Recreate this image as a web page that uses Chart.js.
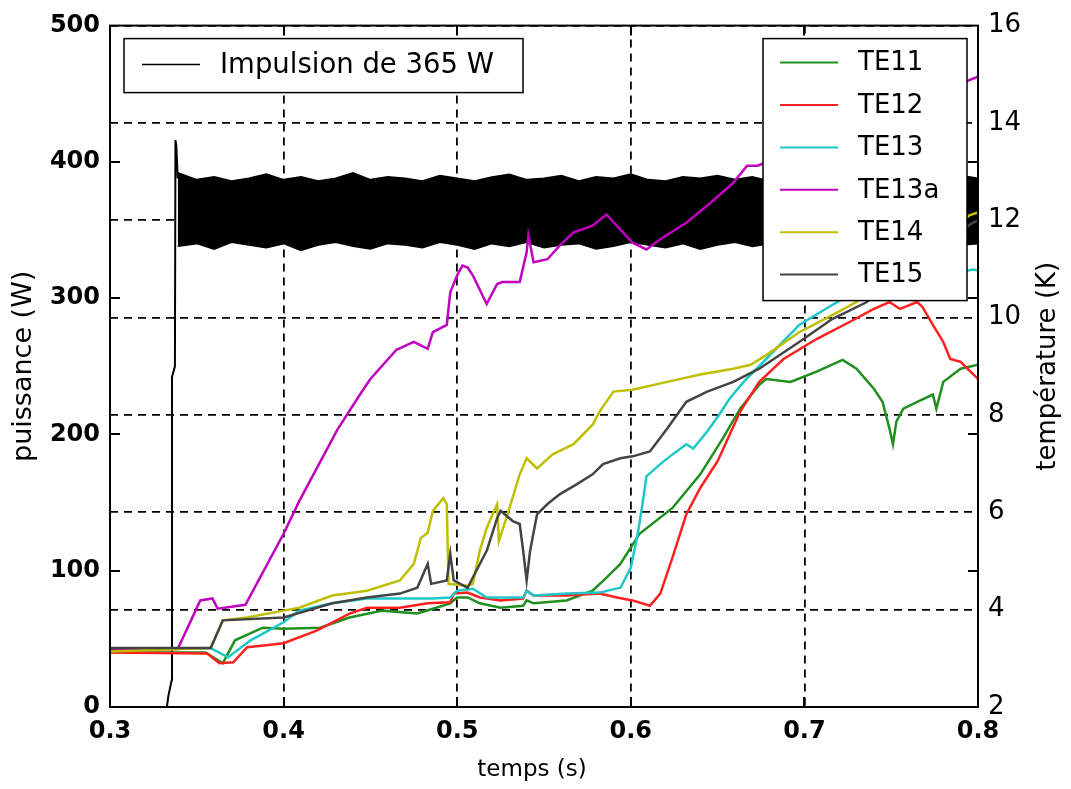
<!DOCTYPE html>
<html><head><meta charset="utf-8">
<script src="https://cdn.jsdelivr.net/npm/chart.js@4/dist/chart.umd.min.js"></script>
<style>html,body{margin:0;padding:0;background:#fff;overflow:hidden}#wrap{width:1071px;height:789px;position:relative}</style>
</head><body><div id="wrap"><canvas id="c" width="1071" height="789"></canvas></div>
<script>
// ---- tick labels ----
const xTicks = [0.3, 0.4, 0.5, 0.6, 0.7, 0.8];
const powerTicks = [0, 100, 200, 300, 400, 500];
const tempTicks = [2, 4, 6, 8, 10, 12, 14, 16];

// ---- power pulse (left axis, W) ----
const pulseLabel = 'Impulsion de 365 W';
const pulseT = [0.3, 0.3328, 0.3336, 0.3356, 0.3357, 0.3374, 0.3377, 0.3382, 0.339];
const pulseW = [0, 0, 8, 20, 242, 250, 416, 412, 388];
// noisy plateau: upper / lower envelope
const bandT = [0.339, 0.35, 0.36, 0.37, 0.38, 0.39, 0.40, 0.41, 0.42, 0.43, 0.44, 0.45, 0.46, 0.47, 0.48, 0.49, 0.50, 0.51, 0.52, 0.53, 0.54, 0.55, 0.56, 0.57, 0.58, 0.59, 0.60, 0.61, 0.62, 0.63, 0.64, 0.65, 0.66, 0.67, 0.68, 0.69, 0.70, 0.71, 0.72, 0.73, 0.74, 0.75, 0.76, 0.77, 0.78, 0.79, 0.80];
const bandHigh = [392, 387, 389, 386, 388, 391, 387, 389, 386, 388, 392, 387, 389, 388, 386, 390, 388, 386, 389, 391, 387, 388, 390, 386, 389, 388, 391, 387, 386, 389, 388, 390, 387, 389, 386, 388, 391, 387, 389, 388, 386, 390, 388, 389, 387, 390, 388];
const bandLow = [338, 340, 336, 341, 339, 337, 340, 335, 339, 341, 338, 336, 340, 339, 337, 341, 339, 336, 340, 338, 341, 337, 339, 340, 336, 338, 341, 339, 337, 340, 336, 339, 341, 338, 340, 337, 339, 336, 340, 338, 341, 337, 339, 336, 341, 339, 340];

// ---- temperatures (right axis, K) ----
const seriesNames = ['TE11', 'TE12', 'TE13', 'TE13a', 'TE14', 'TE15'];
const seriesColors = ['#1f8f1f', '#ff2020', '#1fc8c8', '#bf00bf', '#bfbf00', '#444444'];

const te11T = [0.3,0.355,0.365,0.372,0.388,0.400,0.421,0.438,0.457,0.477,0.486,0.496,0.500,0.506,0.513,0.525,0.538,0.540,0.544,0.563,0.578,0.586,0.594,0.605,0.624,0.640,0.653,0.663,0.674,0.678,0.692,0.707,0.722,0.730,0.740,0.745,0.749,0.751,0.753,0.757,0.765,0.774,0.776,0.780,0.790,0.800];
const te11K = [3.12,3.12,2.90,3.37,3.63,3.61,3.63,3.84,3.98,3.92,4.02,4.13,4.25,4.25,4.13,4.04,4.08,4.19,4.13,4.19,4.39,4.66,4.94,5.56,6.09,6.78,7.52,8.13,8.62,8.74,8.68,8.89,9.13,8.95,8.54,8.27,7.72,7.40,7.87,8.13,8.27,8.42,8.13,8.68,8.95,9.03];

const te12T = [0.3,0.356,0.363,0.371,0.379,0.390,0.400,0.419,0.438,0.448,0.467,0.483,0.496,0.498,0.506,0.513,0.525,0.538,0.540,0.544,0.563,0.582,0.592,0.601,0.611,0.617,0.624,0.632,0.640,0.650,0.657,0.663,0.674,0.688,0.707,0.726,0.740,0.749,0.755,0.765,0.768,0.774,0.780,0.784,0.790,0.794,0.800];
const te12K = [3.12,3.10,2.90,2.92,3.23,3.27,3.31,3.57,3.92,4.04,4.04,4.13,4.15,4.33,4.35,4.25,4.19,4.23,4.39,4.29,4.29,4.33,4.25,4.19,4.08,4.33,5.07,5.96,6.50,7.05,7.60,8.07,8.68,9.15,9.56,9.91,10.18,10.32,10.18,10.32,10.22,9.85,9.50,9.15,9.09,8.95,8.74];

const te13T = [0.3,0.358,0.368,0.381,0.400,0.409,0.428,0.448,0.486,0.496,0.500,0.509,0.517,0.538,0.540,0.544,0.563,0.582,0.594,0.600,0.604,0.607,0.609,0.617,0.624,0.632,0.636,0.644,0.651,0.657,0.665,0.678,0.697,0.716,0.726,0.797,0.800];
const te13K = [3.16,3.21,3.02,3.37,3.74,3.98,4.13,4.23,4.23,4.25,4.39,4.43,4.25,4.25,4.39,4.29,4.33,4.35,4.45,4.86,5.56,6.23,6.74,6.99,7.19,7.40,7.31,7.66,8.01,8.34,8.68,9.15,9.85,10.26,10.46,10.99,10.97];

const te13aT = [0.3,0.339,0.352,0.359,0.362,0.378,0.400,0.409,0.431,0.444,0.450,0.465,0.475,0.483,0.486,0.494,0.496,0.500,0.503,0.506,0.509,0.517,0.523,0.526,0.536,0.540,0.541,0.544,0.552,0.559,0.567,0.578,0.586,0.594,0.601,0.609,0.617,0.632,0.646,0.659,0.667,0.673,0.795,0.800];
const te13aK = [3.19,3.19,4.19,4.23,4.02,4.10,5.56,6.23,7.70,8.42,8.74,9.34,9.50,9.36,9.70,9.85,10.52,10.87,11.07,11.03,10.87,10.28,10.69,10.73,10.73,11.34,11.69,11.14,11.20,11.48,11.75,11.89,12.12,11.81,11.54,11.40,11.61,11.95,12.36,12.77,13.12,13.12,14.88,14.95];

const te14T = [0.3,0.358,0.365,0.379,0.400,0.409,0.428,0.448,0.467,0.475,0.479,0.483,0.486,0.492,0.494,0.495,0.506,0.509,0.513,0.517,0.523,0.524,0.529,0.536,0.540,0.546,0.555,0.567,0.578,0.582,0.590,0.601,0.621,0.640,0.659,0.669,0.678,0.697,0.716,0.730,0.795,0.800];
const te14K = [3.14,3.21,3.78,3.84,3.98,4.04,4.29,4.39,4.60,4.94,5.47,5.58,6.03,6.29,6.17,4.53,4.49,4.53,5.21,5.68,6.17,5.41,5.96,6.78,7.11,6.90,7.19,7.40,7.80,8.07,8.48,8.52,8.68,8.83,8.95,9.03,9.23,9.70,10.05,10.32,12.10,12.16];

const te15T = [0.3,0.358,0.365,0.400,0.428,0.448,0.467,0.477,0.483,0.485,0.494,0.496,0.498,0.506,0.509,0.517,0.523,0.525,0.532,0.536,0.538,0.540,0.542,0.546,0.552,0.559,0.569,0.578,0.584,0.594,0.601,0.611,0.621,0.632,0.644,0.659,0.674,0.697,0.716,0.736,0.748,0.797,0.800];
const te15K = [3.21,3.21,3.78,3.84,4.13,4.25,4.33,4.45,4.94,4.53,4.60,5.15,4.60,4.45,4.66,5.21,5.88,6.03,5.82,5.76,5.21,4.60,5.21,5.96,6.17,6.37,6.58,6.78,6.99,7.11,7.15,7.25,7.72,8.27,8.48,8.68,8.95,9.50,9.97,10.32,10.73,11.95,11.99];

const tempT = [te11T, te12T, te13T, te13aT, te14T, te15T];
const tempK = [te11K, te12K, te13K, te13aK, te14K, te15K];
const drawOrder = [6, 5, 4, 3, 2, 1];

const zip = (xs, ys) => xs.map((x, i) => ({x: x, y: ys[i]}));
const FONT = "'DejaVu Sans', sans-serif";

const datasets = [];
tempT.forEach((t, i) => {
  datasets.push({
    label: seriesNames[i], data: zip(t, tempK[i]), yAxisID: 'y2',
    borderColor: seriesColors[i], backgroundColor: seriesColors[i],
    borderWidth: 2.5, pointRadius: 0, fill: false, tension: 0, order: drawOrder[i]
  });
});
datasets.push({label: pulseLabel, data: zip(pulseT, pulseW), yAxisID: 'y', borderColor: '#000', borderWidth: 2, pointRadius: 0, fill: false, tension: 0, order: 10});
const lowIndex = datasets.length;
datasets.push({label: 'low', data: zip(bandT, bandLow), yAxisID: 'y', borderColor: '#000', borderWidth: 1.5, pointRadius: 0, fill: false, tension: 0, order: 11});
datasets.push({label: 'high', data: zip(bandT, bandHigh), yAxisID: 'y', borderColor: '#000', backgroundColor: '#000', borderWidth: 1.5, pointRadius: 0, fill: {target: lowIndex}, tension: 0, order: 11});

const decor = {
  id: 'decor',
  afterDatasetsDraw(chart) {
    const {ctx, chartArea: a, scales} = chart;
    ctx.save();
    ctx.setLineDash([]);
    ctx.strokeStyle = '#000';
    ctx.lineWidth = 2;
    // inward tick marks
    powerTicks.slice(1, -1).forEach(v => {
      const y = Math.round(scales.y.getPixelForValue(v));
      ctx.beginPath();
      ctx.moveTo(a.left, y); ctx.lineTo(a.left + 10, y);
      ctx.moveTo(a.right, y); ctx.lineTo(a.right - 10, y);
      ctx.stroke();
    });
    xTicks.slice(1, -1).forEach(v => {
      const x = Math.round(scales.x.getPixelForValue(v));
      ctx.beginPath();
      ctx.moveTo(x, a.bottom); ctx.lineTo(x, a.bottom - 10);
      ctx.moveTo(x, a.top); ctx.lineTo(x, a.top + 10);
      ctx.stroke();
    });
    // frame
    ctx.strokeRect(a.left, a.top, a.right - a.left, a.bottom - a.top);

    // legend 1 (power)
    ctx.textBaseline = 'middle';
    ctx.textAlign = 'left';
    ctx.fillStyle = '#fff';
    ctx.lineWidth = 1.5;
    let lx = a.left + 14, ly = a.top + 13;
    ctx.fillRect(lx, ly, 399, 54);
    ctx.strokeRect(lx, ly, 399, 54);
    ctx.beginPath(); ctx.moveTo(a.left + 32, a.top + 39); ctx.lineTo(a.left + 90, a.top + 39);
    ctx.lineWidth = 1.5; ctx.strokeStyle = '#000'; ctx.stroke();
    ctx.fillStyle = '#000';
    ctx.font = '27.5px ' + FONT;
    ctx.fillText(pulseLabel, a.left + 110, a.top + 40);

    // legend 2 (temperatures)
    ctx.font = '26px ' + FONT;
    lx = a.right - 215; ly = a.top + 13;
    ctx.fillStyle = '#fff';
    ctx.fillRect(lx, ly, 204, 262);
    ctx.strokeStyle = '#000'; ctx.lineWidth = 1.5;
    ctx.strokeRect(lx, ly, 204, 262);
    seriesNames.forEach((n, i) => {
      const yy = a.top + 37 + i * 42.4;
      ctx.beginPath(); ctx.moveTo(a.right - 198, yy); ctx.lineTo(a.right - 140, yy);
      ctx.strokeStyle = seriesColors[i]; ctx.lineWidth = 2; ctx.stroke();
      ctx.fillStyle = '#000';
      ctx.fillText(n, a.right - 120, yy + 1);
    });
    ctx.restore();
  },
  afterDraw(chart) {
    const {ctx, chartArea: a} = chart;
    ctx.save();
    ctx.fillStyle = '#000';
    ctx.textAlign = 'center';
    ctx.textBaseline = 'middle';
    ctx.font = '23px ' + FONT;
    ctx.fillText('temps (s)', 532, 770);
    ctx.translate(1048, (a.top + a.bottom) / 2);
    ctx.rotate(-Math.PI / 2);
    ctx.font = '26px ' + FONT;
    ctx.fillText('température (K)', 0, 0);
    ctx.restore();
  }
};

new Chart(document.getElementById('c'), {
  type: 'line',
  data: {datasets: datasets},
  options: {
    responsive: false, animation: false, devicePixelRatio: 1,
    layout: {padding: {top: 22, left: 0, right: 0, bottom: 0}},
    plugins: {legend: {display: false}, tooltip: {enabled: false}, title: {display: false}},
    scales: {
      x: {
        type: 'linear', min: 0.3, max: 0.8,
        afterBuildTicks: s => { s.ticks = xTicks.map(v => ({value: v})); },
        afterFit: s => { s.height = 82; },
        ticks: {color: '#000', font: {family: FONT, size: 24, weight: 'bold'}, padding: 10, maxRotation: 0, callback: v => v.toFixed(1)},
        grid: {color: '#000', lineWidth: 1.8, drawTicks: false},
        border: {display: false, dash: [8, 6]},
        title: {display: false}
      },
      y: {
        type: 'linear', position: 'left', min: 0, max: 500,
        afterBuildTicks: s => { s.ticks = powerTicks.map(v => ({value: v})); },
        afterFit: s => { s.width = 110; },
        ticks: {color: '#000', font: {family: FONT, size: 24, weight: 'bold'}, padding: 10},
        grid: {display: false, drawTicks: false},
        border: {display: false},
        title: {display: true, text: 'puissance (W)', color: '#000', font: {family: FONT, size: 27}, padding: {top: 8, bottom: 0}}
      },
      y2: {
        type: 'linear', position: 'right', min: 2, max: 16,
        afterBuildTicks: s => { s.ticks = tempTicks.map(v => ({value: v})); },
        afterFit: s => { s.width = 93; },
        ticks: {color: '#000', font: {family: FONT, size: 26}, padding: 10},
        grid: {color: '#000', lineWidth: 1.8, drawTicks: false},
        border: {display: false, dash: [8, 6]},
        title: {display: false}
      }
    }
  },
  plugins: [decor]
});
</script>
</body></html>
